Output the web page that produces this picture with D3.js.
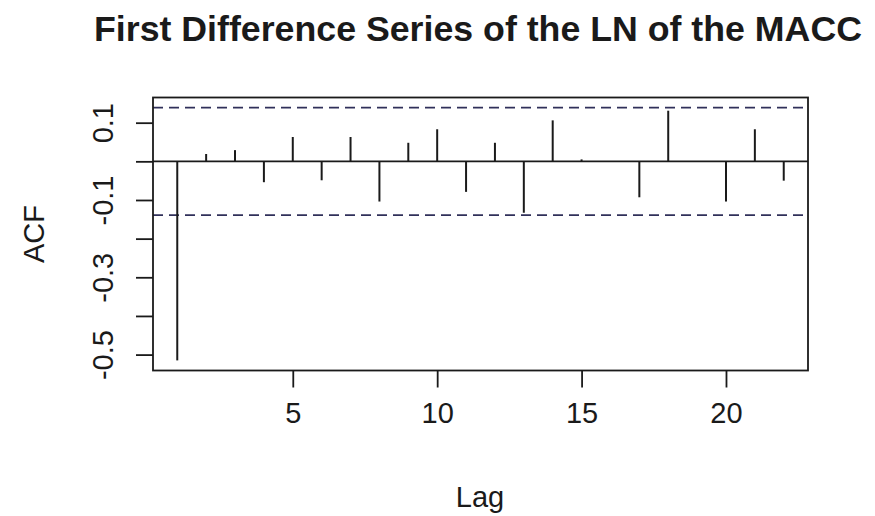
<!DOCTYPE html>
<html>
<head>
<meta charset="utf-8">
<script src="https://cdn.jsdelivr.net/npm/d3@7"></script>
<style>
  html, body { margin: 0; padding: 0; background: #fff; }
  svg { display: block; }
  text { font-family: "Liberation Sans", Arial, sans-serif; fill: #1a1a1a; }
</style>
</head>
<body>
<svg id="chart" width="875" height="516"></svg>
<script>
// Autocorrelations of the first-differenced log series, lags 1..22
const lags = [1,2,3,4,5,6,7,8,9,10,11,12,13,14,15,16,17,18,19,20,21,22];
const acf  = [-0.515,0.019,0.029,-0.054,0.063,-0.049,0.063,-0.104,0.048,0.083,-0.079,
              0.048,-0.133,0.106,0.005,0.0,-0.093,0.131,0.0,-0.104,0.083,-0.050];
const ciBound = 0.139;               // approx. 95% white-noise band
const xTicks = [5,10,15,20];
const yTicks = [0.1,0.0,-0.1,-0.2,-0.3,-0.4,-0.5];
const yTickLabels = ["0.1","","-0.1","","-0.3","","-0.5"];

const titleText = "First Difference Series of the LN of the MACC";
const xLabel = "Lag";
const yLabel = "ACF";

const svg = d3.select("#chart");
const plot = {left: 153, right: 808, top: 97.5, bottom: 370.5};
const ink = "#1a1a1a";
const fontFam = "Liberation Sans, Arial, sans-serif";
const labelSize = 29;

// Axis ranges extended by 4% on each side
function padded(lo, hi) { const d = (hi - lo) * 0.04; return [lo - d, hi + d]; }
const xDom = padded(d3.min(lags), d3.max(lags));
const yDom = padded(Math.min(d3.min(acf), -ciBound), Math.max(d3.max(acf), ciBound));

const x = d3.scaleLinear().domain(xDom).range([plot.left, plot.right]);
const y = d3.scaleLinear().domain(yDom).range([plot.bottom, plot.top]);

// Zero reference line
svg.append("line")
  .attr("x1", plot.left).attr("x2", plot.right)
  .attr("y1", y(0)).attr("y2", y(0))
  .attr("stroke", ink).attr("stroke-width", 1.8);

// Confidence band
svg.selectAll("line.ci").data([ciBound, -ciBound]).join("line")
  .attr("class", "ci")
  .attr("x1", plot.left).attr("x2", plot.right)
  .attr("y1", d => y(d)).attr("y2", d => y(d))
  .attr("stroke", "#30305a").attr("stroke-width", 1.7)
  .attr("stroke-dasharray", "10,6");

// ACF spikes
svg.selectAll("line.spike").data(lags.map((l, i) => ({l, v: acf[i]}))).join("line")
  .attr("class", "spike")
  .attr("x1", d => x(d.l)).attr("x2", d => x(d.l))
  .attr("y1", y(0)).attr("y2", d => y(d.v))
  .attr("stroke", ink).attr("stroke-width", 2);

// Plot frame
svg.append("rect")
  .attr("x", plot.left).attr("y", plot.top)
  .attr("width", plot.right - plot.left).attr("height", plot.bottom - plot.top)
  .attr("fill", "none").attr("stroke", ink).attr("stroke-width", 1.8);

// Bottom axis
const xAxis = svg.append("g")
  .attr("transform", `translate(0,${plot.bottom})`)
  .call(d3.axisBottom(x).tickValues(xTicks).tickSize(17).tickFormat(d3.format("d")));
xAxis.select(".domain").remove();
xAxis.selectAll(".tick line").attr("stroke", ink).attr("stroke-width", 1.8);
xAxis.selectAll(".tick text")
  .attr("font-size", labelSize).attr("fill", ink).attr("font-family", fontFam)
  .attr("y", 52).attr("dy", null);

// Left axis, labels rotated as in base R graphics
const yAxis = svg.append("g")
  .attr("transform", `translate(${plot.left},0)`)
  .call(d3.axisLeft(y).tickValues(yTicks).tickSize(17).tickFormat((d, i) => yTickLabels[i]));
yAxis.select(".domain").remove();
yAxis.selectAll(".tick line").attr("stroke", ink).attr("stroke-width", 1.8);
yAxis.selectAll(".tick text")
  .attr("font-size", labelSize).attr("fill", ink).attr("font-family", fontFam)
  .attr("x", null).attr("dy", null)
  .attr("text-anchor", "middle")
  .attr("transform", "translate(-40,0) rotate(-90)");

// Title and axis titles
svg.append("text")
  .attr("x", 478).attr("y", 41)
  .attr("text-anchor", "middle")
  .attr("font-size", 35.5).attr("font-weight", "bold")
  .attr("textLength", 768).attr("lengthAdjust", "spacingAndGlyphs")
  .text(titleText);

svg.append("text")
  .attr("x", 480).attr("y", 507)
  .attr("text-anchor", "middle")
  .attr("font-size", labelSize)
  .text(xLabel);

svg.append("text")
  .attr("transform", "translate(44,234) rotate(-90)")
  .attr("text-anchor", "middle")
  .attr("font-size", labelSize)
  .text(yLabel);
</script>
</body>
</html>
